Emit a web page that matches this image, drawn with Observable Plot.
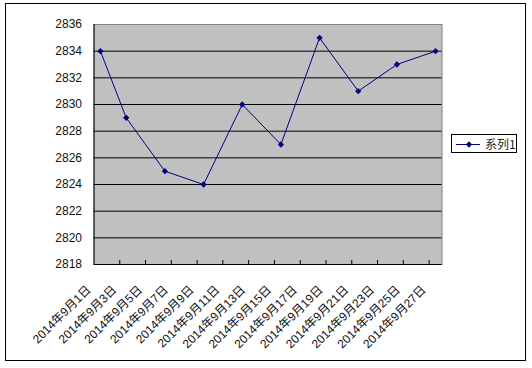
<!DOCTYPE html>
<html>
<head>
<meta charset="utf-8">
<script src="https://cdn.jsdelivr.net/npm/d3@7"></script>
<script src="https://cdn.jsdelivr.net/npm/@observablehq/plot@0.6"></script>
<style>
  html, body { margin: 0; padding: 0; background: white; }
  #wrap { position: relative; width: 532px; height: 368px; overflow: hidden; }
  #border { position: absolute; left: 5px; top: 3px; width: 519px; height: 356px; border: 1px solid #000; pointer-events: none; }
  #legend { position: absolute; left: 451px; top: 134px; width: 64px; height: 17px; border: 1px solid #000; background: #fff;
            display: flex; align-items: center; font-family: 'Noto Sans CJK SC', sans-serif; font-size: 12px; color: #222; }
  #legend svg { display: block; }
</style>
</head>
<body>
<div id="wrap">
  <div id="chart"></div>
  <div id="border"></div>
  <div id="legend"></div>
</div>
<script>
// Data: day of September 2014 and value
const days = [1, 3, 6, 9, 12, 15, 18, 21, 24, 27];
const values = [2834, 2829, 2825, 2824, 2830, 2827, 2835, 2831, 2833, 2834];
// Category labels (every two days)
const labelDays = [1, 3, 5, 7, 9, 11, 13, 15, 17, 19, 21, 23, 25, 27];
const labels = labelDays.map(d => `2014年9月${d}日`);
// Tick boundaries between label intervals
const tickDays = [2.5, 4.5, 6.5, 8.5, 10.5, 12.5, 14.5, 16.5, 18.5, 20.5, 22.5, 24.5, 26.5];
const yTicks = [2818, 2820, 2822, 2824, 2826, 2828, 2830, 2832, 2834, 2836];
const gridValues = [2820, 2822, 2824, 2826, 2828, 2830, 2832, 2834];
const seriesName = "系列1";

const data = days.map((d, i) => ({day: d, value: values[i]}));

const chart = Plot.plot({
  width: 532,
  height: 368,
  marginLeft: 93.5,
  marginRight: 90.5,
  marginTop: 24,
  marginBottom: 104,
  style: {fontFamily: "'Liberation Sans', 'Noto Sans CJK SC', sans-serif", fontSize: "12px", background: "transparent", overflow: "visible"},
  x: {type: "linear", domain: [0.5, 27.5], axis: null},
  y: {domain: [2818, 2836], axis: null},
  marks: [
    Plot.frame({fill: "#c0c0c0", stroke: "#808080"}),
    Plot.ruleY(gridValues, {stroke: "#000"}),
    Plot.ruleX([0.5], {stroke: "#000"}),
    Plot.ruleY([2818], {stroke: "#000"}),
    Plot.ruleX(tickDays, {x: d => d, y1: 2818, y2: 2818.3, stroke: "#000"}),
    Plot.axisY(yTicks, {anchor: "left", tickSize: 0, tickPadding: 12, fontSize: 12, fill: "#111", label: null, tickFormat: d => String(d)}),
    Plot.text(labelDays, {x: d => d, text: (d, i) => labels[i], frameAnchor: "bottom", rotate: -45, textAnchor: "end", dx: -9, dy: 26, fontSize: 12, fill: "#111"}),
    Plot.line(data, {x: "day", y: "value", stroke: "#000080", strokeWidth: 1}),
    Plot.dot(data, {x: "day", y: "value", symbol: "square", rotate: 45, r: 2.5, fill: "#000080", stroke: "none"})
  ]
});
document.getElementById("chart").appendChild(chart);

// Legend
const leg = document.getElementById("legend");
const ns = "http://www.w3.org/2000/svg";
const s = document.createElementNS(ns, "svg");
s.setAttribute("width", 32); s.setAttribute("height", 17);
const ln = document.createElementNS(ns, "line");
ln.setAttribute("x1", 4); ln.setAttribute("x2", 28); ln.setAttribute("y1", 9.5); ln.setAttribute("y2", 9.5);
ln.setAttribute("stroke", "#000080");
s.appendChild(ln);
const dm = document.createElementNS(ns, "path");
dm.setAttribute("d", d3.symbol(d3.symbolSquare, 20)());
dm.setAttribute("transform", "translate(17,9.5) rotate(45)");
dm.setAttribute("fill", "#000080");
s.appendChild(dm);
leg.appendChild(s);
const t = document.createElement("span");
t.textContent = seriesName;
t.style.marginLeft = "1px";
leg.appendChild(t);
</script>
</body>
</html>
